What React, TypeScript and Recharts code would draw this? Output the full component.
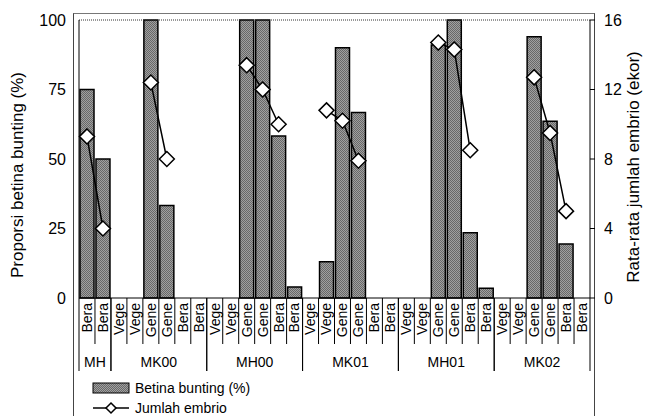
import React from 'react';
import {
  ComposedChart,
  Bar,
  Line,
  XAxis,
  YAxis,
  ReferenceLine,
  Legend,
  Label,
} from 'recharts';

const categories = [
  'Bera', 'Bera',
  'Vege', 'Vege', 'Gene', 'Gene', 'Bera', 'Bera',
  'Vege', 'Vege', 'Gene', 'Gene', 'Bera', 'Bera',
  'Vege', 'Vege', 'Gene', 'Gene', 'Bera', 'Bera',
  'Vege', 'Vege', 'Gene', 'Gene', 'Bera', 'Bera',
  'Vege', 'Vege', 'Gene', 'Gene', 'Bera', 'Bera',
];

const groupNames = ['MH', 'MK00', 'MH00', 'MK01', 'MH01', 'MK02'];
const groupSizes = [2, 6, 6, 6, 6, 6];

// Proporsi betina bunting (%)
const betina = [
  75, 50,
  0, 0, 100, 33.3, 0, 0,
  0, 0, 100, 100, 58.3, 4,
  0, 13, 90, 66.7, 0, 0,
  0, 0, 91, 100, 23.5, 3.5,
  0, 0, 94, 63.6, 19.4, 0,
];

// Rata-rata jumlah embrio (ekor)
const embrio = [
  9.3, 4.0,
  null, null, 12.4, 8.0, null, null,
  null, null, 13.4, 12.0, 10.0, null,
  null, 10.8, 10.2, 7.9, null, null,
  null, null, 14.7, 14.3, 8.5, null,
  null, null, 12.7, 9.5, 5.0, null,
];

const leftTicks = [0, 25, 50, 75, 100];
const rightTicks = [0, 4, 8, 12, 16];

const data = categories.map((c, i) => ({
  id: i,
  name: c,
  betina: betina[i],
  embrio: embrio[i],
}));

// index -> group that starts there
const groupStart: Record<number, number> = {};
const groupEnds = new Set<number>();
{
  let s = 0;
  groupSizes.forEach((n, g) => {
    groupStart[s] = g;
    s += n;
    groupEnds.add(s - 1);
  });
}

const FONT = '"Liberation Sans", Arial, sans-serif';
const W = 646;
const H = 416;
const PLOT_LEFT = 79;
const PLOT_RIGHT = 590;
const CAT_W = (PLOT_RIGHT - PLOT_LEFT) / categories.length;

const CategoryTick = (props: any) => {
  const { x, y, index } = props;
  const half = CAT_W / 2;
  const g = groupStart[index];
  const isEnd = groupEnds.has(index);
  return (
    <g>
      <text
        transform={`translate(${x},${y + 5}) rotate(-90)`}
        textAnchor="end"
        dy="0.35em"
        fontSize={14}
        fontFamily={FONT}
        fill="#000"
      >
        {categories[index]}
      </text>
      {g !== undefined && (
        <>
          <line x1={x - half} x2={x - half} y1={y} y2={y + 73} stroke="#000" strokeWidth={1} />
          <text
            x={x - half + (groupSizes[g] * CAT_W) / 2}
            y={y + 69}
            textAnchor="middle"
            fontSize={14}
            fontFamily={FONT}
            fill="#000"
          >
            {groupNames[g]}
          </text>
        </>
      )}
      <line
        x1={x + half}
        x2={x + half}
        y1={y}
        y2={y + (isEnd ? 73 : 46)}
        stroke="#000"
        strokeWidth={1}
      />
    </g>
  );
};

const Diamond = (props: any) => {
  const { cx, cy, index, value } = props;
  if (value == null || cy == null) return <g key={`d-${index}`} />;
  const r = 7.5;
  return (
    <polygon
      key={`d-${index}`}
      points={`${cx},${cy - r} ${cx + r},${cy} ${cx},${cy + r} ${cx - r},${cy}`}
      fill="#fff"
      stroke="#000"
      strokeWidth={1.5}
    />
  );
};

const LegendContent = () => (
  <div style={{ fontFamily: FONT, fontSize: 14, color: '#000', lineHeight: '20px' }}>
    <div style={{ display: 'flex', alignItems: 'center', height: 20 }}>
      <svg width={40} height={12} style={{ marginRight: 4 }}>
        <rect x={2} y={1} width={36} height={10} fill="url(#grayDots)" stroke="#000" strokeWidth={1} />
      </svg>
      Betina bunting (%)
    </div>
    <div style={{ display: 'flex', alignItems: 'center', height: 20 }}>
      <svg width={40} height={14} style={{ marginRight: 4 }}>
        <line x1={2} x2={38} y1={7} y2={7} stroke="#000" strokeWidth={1.5} />
        <polygon points="20,2 25,7 20,12 15,7" fill="#fff" stroke="#000" strokeWidth={1.5} />
      </svg>
      Jumlah embrio
    </div>
  </div>
);

export default function App() {
  return (
    <div style={{ position: 'absolute', left: 0, top: 0, width: W, height: H, fontFamily: FONT, background: '#fff' }}>
      <div
        style={{
          position: 'absolute',
          left: 73,
          top: 13,
          width: 522 - 2,
          height: H - 13,
          borderTop: '1px solid #777',
          borderLeft: '1px solid #444',
          borderRight: '1px solid #444',
        }}
      />
      <ComposedChart
        width={W}
        height={H}
        data={data}
        margin={{ top: 20, right: 0, bottom: 0, left: 0 }}
        barCategoryGap={0}
        style={{ position: 'absolute', left: 0, top: 0 }}
      >
        <defs>
          <pattern id="grayDots" width={2} height={2} patternUnits="userSpaceOnUse">
            <rect width={2} height={2} fill="#a0a0a0" />
            <rect width={1} height={1} fill="#686868" />
            <rect x={1} y={1} width={1} height={1} fill="#686868" />
          </pattern>
        </defs>
        <XAxis
          dataKey="id"
          type="category"
          interval={0}
          height={118}
          tickLine={false}
          tickSize={0}
          tickMargin={0}
          axisLine={{ stroke: '#000', strokeWidth: 1 }}
          tick={<CategoryTick />}
        />
        <YAxis
          yAxisId="left"
          orientation="left"
          width={PLOT_LEFT}
          domain={[0, 100]}
          ticks={leftTicks}
          tickLine={false}
          tickSize={0}
          tickMargin={13}
          axisLine={{ stroke: '#000', strokeWidth: 1 }}
          tick={{ fontSize: 16, fill: '#000', fontFamily: FONT }}
        >
          <Label
            content={() => (
              <text
                transform="translate(23,175) rotate(-90)"
                textAnchor="middle"
                fontSize={17}
                fontFamily={FONT}
                fill="#000"
              >
                Proporsi betina bunting (%)
              </text>
            )}
          />
        </YAxis>
        <YAxis
          yAxisId="right"
          orientation="right"
          width={W - PLOT_RIGHT}
          domain={[0, 16]}
          ticks={rightTicks}
          tickSize={5}
          tickMargin={9}
          tickLine={{ stroke: '#000' }}
          axisLine={{ stroke: '#000', strokeWidth: 1 }}
          tick={{ fontSize: 16, fill: '#000', fontFamily: FONT }}
        >
          <Label
            content={() => (
              <text
                transform="translate(639,167) rotate(-90)"
                textAnchor="middle"
                fontSize={17}
                fontFamily={FONT}
                fill="#000"
              >
                Rata-rata jumlah embrio (ekor)
              </text>
            )}
          />
        </YAxis>
        <ReferenceLine yAxisId="left" y={100} stroke="#333" strokeDasharray="1 1" />
        <Bar
          yAxisId="left"
          dataKey="betina"
          barSize={14}
          fill="url(#grayDots)"
          stroke="#000"
          strokeWidth={1.5}
          isAnimationActive={false}
        />
        <Line
          yAxisId="right"
          dataKey="embrio"
          stroke="#000"
          strokeWidth={1.5}
          connectNulls={false}
          dot={<Diamond />}
          activeDot={false}
          isAnimationActive={false}
        />
        <Legend
          layout="vertical"
          align="center"
          verticalAlign="middle"
          content={<LegendContent />}
          wrapperStyle={{ left: 91, top: 378, width: 220, height: 40 }}
        />
      </ComposedChart>
    </div>
  );
}
